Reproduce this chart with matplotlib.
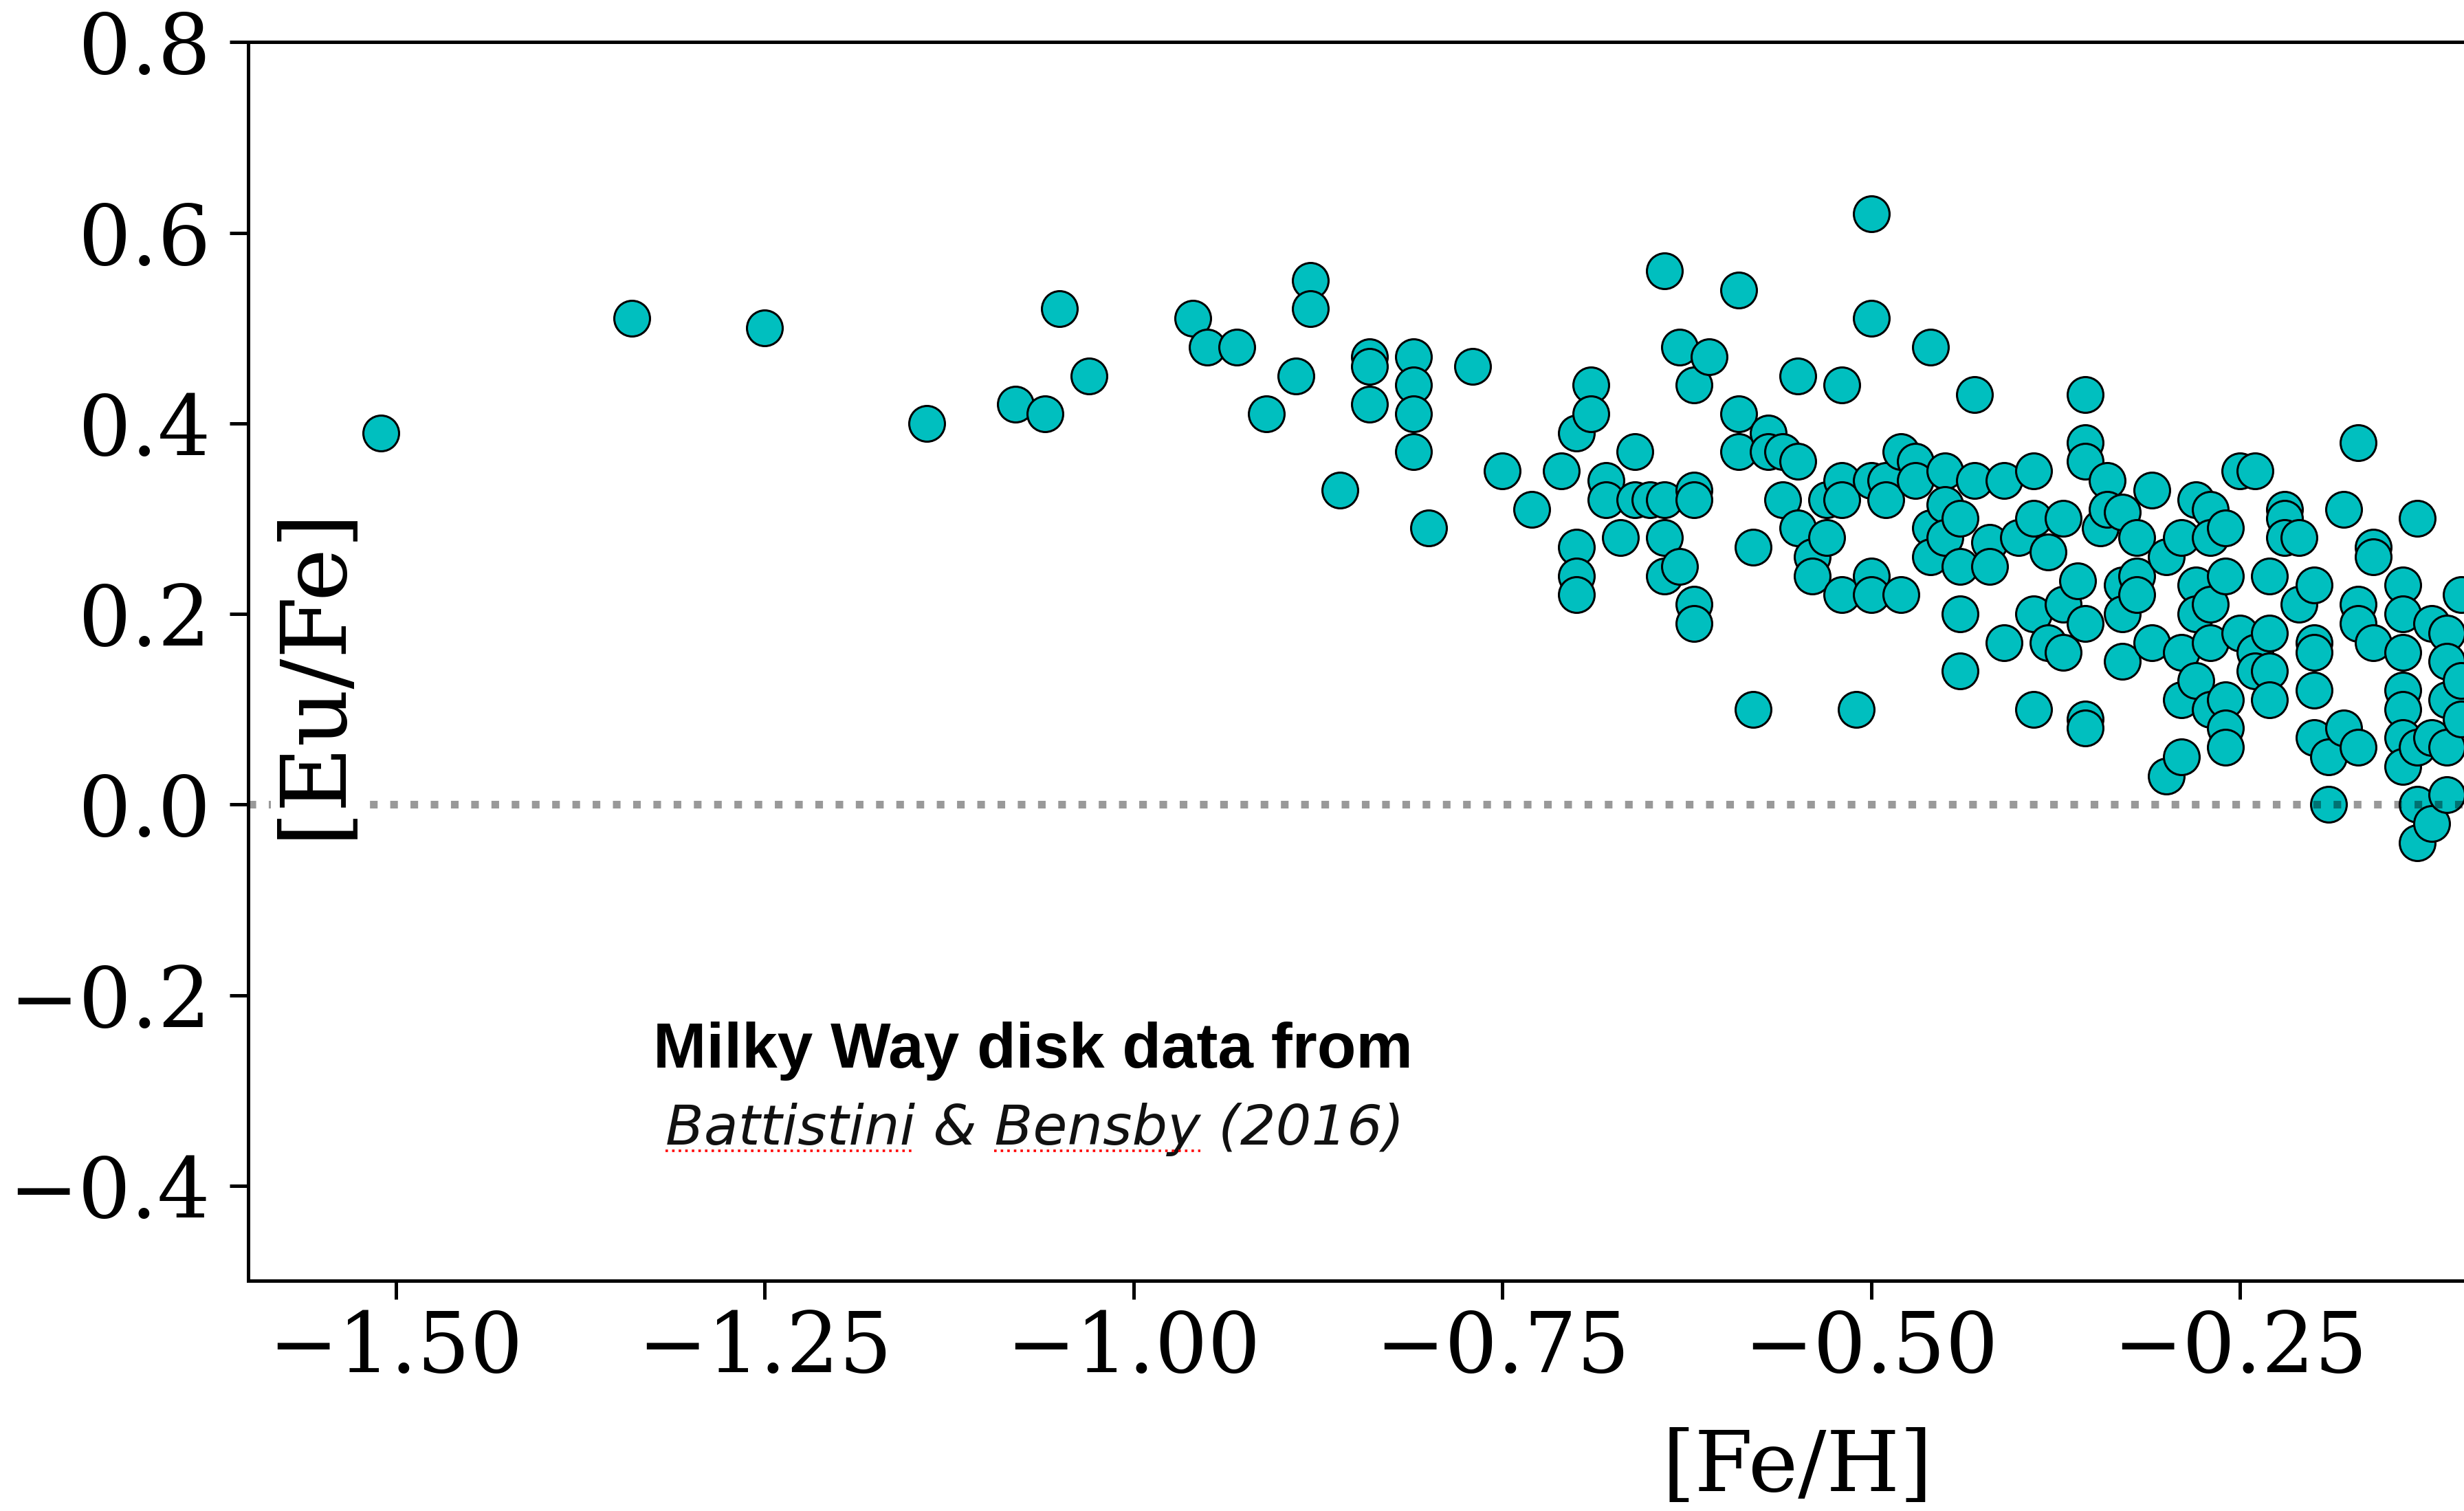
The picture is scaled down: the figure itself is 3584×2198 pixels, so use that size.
import matplotlib
matplotlib.use("Agg")
import matplotlib.pyplot as plt
from matplotlib.lines import Line2D
from matplotlib.font_manager import FontProperties

# Milky Way disk stars, Battistini & Bensby (2016)
fe_h = [-1.51, -1.34, -1.25, -1.14, -1.08, -1.06, -1.05, -1.03, -0.96, -0.95,
        -0.93, -0.91, -0.89, -0.88, -0.88, -0.86, -0.84, -0.84, -0.84, -0.81,
        -0.81, -0.81, -0.81, -0.80, -0.77, -0.75, -0.73, -0.71, -0.70, -0.70,
        -0.70, -0.70, -0.69, -0.69, -0.68, -0.68, -0.67, -0.66, -0.66, -0.65,
        -0.64, -0.64, -0.64, -0.64, -0.63, -0.63, -0.62, -0.62, -0.62, -0.62,
        -0.62, -0.61, -0.59, -0.59, -0.59, -0.58, -0.58,
        -0.57, -0.57, -0.56, -0.56, -0.55, -0.55, -0.55, -0.54, -0.54, -0.53,
        -0.53, -0.52, -0.52, -0.52, -0.52, -0.51, -0.50, -0.50, -0.50, -0.50,
        -0.50, -0.49, -0.49, -0.48, -0.48, -0.47, -0.47, -0.46, -0.46, -0.46,
        -0.45, -0.45, -0.45, -0.44, -0.44, -0.44, -0.44, -0.43, -0.43, -0.42,
        -0.42, -0.41, -0.41, -0.40, -0.39, -0.39, -0.39, -0.39, -0.38, -0.38,
        -0.37, -0.37, -0.37, -0.355, -0.355, -0.355, -0.36, -0.355, -0.355, -0.355,
        -0.345, -0.34, -0.34, -0.33, -0.33, -0.33, -0.33, -0.32, -0.32, -0.32,
        -0.31, -0.31, -0.30, -0.30, -0.29, -0.29, -0.29, -0.29, -0.28, -0.28,
        -0.28, -0.28, -0.27, -0.27, -0.27, -0.27, -0.27, -0.26, -0.26, -0.26,
        -0.26, -0.26, -0.25, -0.25, -0.24, -0.24, -0.24, -0.23, -0.23, -0.23,
        -0.23, -0.22, -0.22, -0.22, -0.21, -0.21, -0.20, -0.20, -0.20, -0.20,
        -0.20, -0.19, -0.19, -0.18, -0.18, -0.17, -0.17, -0.17, -0.17, -0.16,
        -0.16, -0.16, -0.14, -0.14, -0.14, -0.14, -0.14, -0.14, -0.14, -0.13,
        -0.13, -0.13, -0.13, -0.12, -0.12, -0.12, -0.11, -0.11, -0.11, -0.11,
        -0.11, -0.10, -0.10, -0.10]
eu_fe = [0.39, 0.51, 0.50, 0.40, 0.42, 0.41, 0.52, 0.45, 0.51, 0.48,
         0.48, 0.41, 0.45, 0.55, 0.52, 0.33, 0.47, 0.46, 0.42, 0.47,
         0.44, 0.41, 0.37, 0.29, 0.46, 0.35, 0.31, 0.35, 0.39, 0.27,
         0.24, 0.22, 0.44, 0.41, 0.34, 0.32, 0.28, 0.37, 0.32, 0.32,
         0.56, 0.32, 0.28, 0.24, 0.48, 0.25, 0.44, 0.33, 0.32, 0.21,
         0.19, 0.47, 0.54, 0.41, 0.37, 0.27, 0.10,
         0.39, 0.37, 0.37, 0.32, 0.45, 0.36, 0.29, 0.26, 0.24, 0.32,
         0.28, 0.44, 0.34, 0.32, 0.22, 0.10, 0.62, 0.51, 0.34, 0.24,
         0.22, 0.34, 0.32, 0.37, 0.22, 0.36, 0.34, 0.48, 0.29, 0.26,
         0.35, 0.315, 0.28, 0.30, 0.25, 0.20, 0.14, 0.43, 0.34, 0.275,
         0.25, 0.34, 0.17, 0.28, 0.35, 0.30, 0.20, 0.10, 0.265, 0.17,
         0.30, 0.21, 0.16, 0.43, 0.38, 0.36, 0.235, 0.19, 0.09, 0.08,
         0.29, 0.34, 0.31, 0.307, 0.23, 0.20, 0.15, 0.28, 0.24, 0.22,
         0.33, 0.17, 0.26, 0.03, 0.28, 0.16, 0.11, 0.05, 0.32, 0.23,
         0.20, 0.13, 0.31, 0.28, 0.21, 0.17, 0.10, 0.29, 0.24, 0.11,
         0.08, 0.06, 0.35, 0.18, 0.35, 0.16, 0.14, 0.24, 0.18, 0.14,
         0.11, 0.31, 0.30, 0.28, 0.28, 0.21, 0.23, 0.17, 0.16, 0.12,
         0.07, 0.05, 0.00, 0.31, 0.08, 0.38, 0.21, 0.19, 0.06, 0.27,
         0.26, 0.17, 0.23, 0.20, 0.16, 0.12, 0.10, 0.07, 0.04, 0.30,
         0.06, 0.00, -0.04, 0.19, 0.07, -0.02, 0.18, 0.15, 0.11, 0.06,
         0.01, 0.22, 0.13, 0.09]

xlim = (-1.6, 0.5)
ylim = (-0.5, 0.8)
# only the ticks that land on the visible part of the canvas
xticks = [-1.5, -1.25, -1.0, -0.75, -0.5, -0.25]

plt.rcParams['font.family'] = 'DejaVu Serif'
plt.rcParams['mathtext.fontset'] = 'dejavuserif'

fig = plt.figure(figsize=(17.92, 10.99), dpi=200)
# the axes runs past the right edge of the canvas on purpose
ax = fig.add_axes([0.1007, 0.1522, 1.2576, 0.8199])

ax.scatter(fe_h, eu_fe, s=350, c='c', edgecolors='k', linewidths=1.1, zorder=1.1)
ax.axhline(0, color='k', alpha=0.4, ls=':', lw=4, zorder=1.2)

ax.set_xlim(*xlim)
ax.set_ylim(*ylim)
ax.set_xticks(xticks)
ax.tick_params(labelsize=43.5, length=9.7, width=1.8, top=False, right=False)
ax.tick_params(axis='y', pad=10)
ax.tick_params(axis='x', pad=5)
for sp in ax.spines.values():
    sp.set_linewidth(1.8)

ax.set_xlabel('[Fe/H]', fontsize=44, labelpad=20)
ax.set_ylabel('[Eu/Fe]', fontsize=47,
              bbox=dict(facecolor='white', edgecolor='none', pad=0))
ax.yaxis.label.set(ha='center', va='center', rotation_mode='anchor')
ax.yaxis.set_label_coords(0.0213, 0.492)

ax.text(-1.068, -0.259, 'Milky Way disk data from', ha='center', va='center',
        fontsize=33.4, family='Liberation Sans', weight='bold')
ref_prop = FontProperties(family='DejaVu Sans', style='oblique', size=29.3)
ref = ax.text(-1.067, -0.341, 'Battistini & Bensby (2016)', ha='center', va='center',
              fontproperties=ref_prop, color='#111111')

# red dotted spell-check underline below the two author names
fig.canvas.draw()
r = fig.canvas.get_renderer()
bb = ref.get_window_extent(r)
inv = fig.transFigure.inverted()


def text_w(s):
    return r.get_text_width_height_descent(s, ref_prop, ismath=False)[0]


y_ul = bb.y0 + 8
for start, word in [('', 'Battistini'), ('Battistini & ', 'Bensby')]:
    x0 = bb.x0 + text_w(start) if start else bb.x0
    x1 = x0 + text_w(word)
    (fx0, fy), (fx1, _) = inv.transform([(x0, y_ul), (x1, y_ul)])
    fig.add_artist(Line2D([fx0, fx1], [fy, fy], transform=fig.transFigure,
                          color='red', ls=':', lw=1.3))

fig.savefig('out.png', dpi=200)
